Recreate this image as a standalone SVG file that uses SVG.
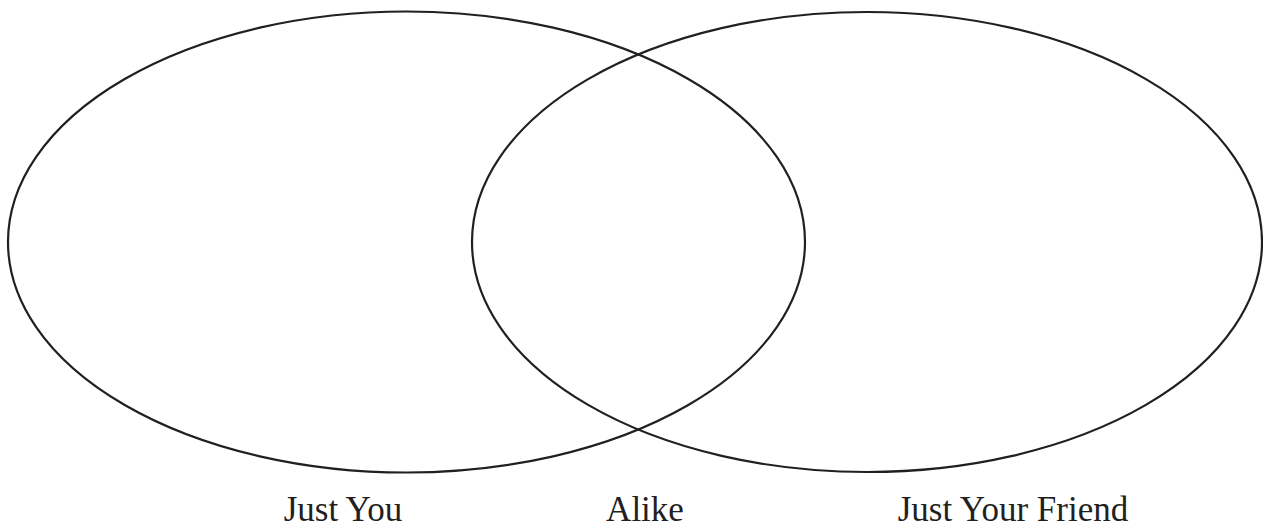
<svg xmlns="http://www.w3.org/2000/svg" width="1263" height="531" viewBox="0 0 1263 531">
<style>
.c{fill:none;stroke:#231f20;stroke-width:2.2}
.t{font-family:"Liberation Serif",serif;font-size:35px;fill:#231f20;text-anchor:middle}
</style>
<rect width="1263" height="531" fill="#fff"/>
<g id="left-set"><ellipse class="c" cx="406.5" cy="242" rx="398.5" ry="230.5"/></g>
<g id="right-set"><ellipse class="c" cx="867" cy="242" rx="395" ry="230"/></g>
<g id="connectors"></g>
<g id="labels">
<text class="t" x="343" y="521">Just You</text>
<text class="t" x="645" y="521">Alike</text>
<text class="t" x="1013" y="521">Just Your Friend</text>
</g>
</svg>
